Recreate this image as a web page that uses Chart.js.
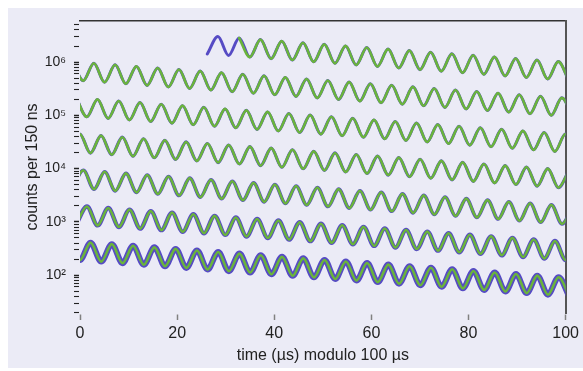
<!DOCTYPE html>
<html>
<head>
<meta charset="utf-8">
<script src="https://cdn.jsdelivr.net/npm/chart.js@4.4.1/dist/chart.umd.min.js"></script>
<style>
  html, body { margin: 0; padding: 0; background: #fff; }
  #wrap { width: 583px; height: 371px; position: relative; overflow: hidden; }
  #panel { position: absolute; left: 8px; top: 8px; width: 575px; height: 360px; background: #ebebf6; }
  #wiggle { position: absolute; left: 0; top: 0; }
  .margin { position: absolute; background: #fff; z-index: 2; }
</style>
</head>
<body>
<div id="wrap">
  <div id="panel"></div>
  <canvas id="wiggle" width="583" height="371"></canvas>
  <div class="margin" style="left:0;top:0;width:583px;height:8px"></div>
  <div class="margin" style="left:0;top:0;width:8px;height:371px"></div>
  <div class="margin" style="left:0;top:368px;width:583px;height:3px"></div>
</div>
<script>
// wiggle extrema (counts per 150 ns), in time order
const firstTroughTime = 26.21;   // µs, first trough of the data
const wigglePeriod = 4.38;       // µs between successive peaks
const fitStartTime = 32.78;      // the fitted curve starts at this peak
const rowLength = 100;           // µs per row (time modulo 100 µs)
const rowCount = 7;

const troughCounts = [
  1420000, 1330000, 1240000, 1160000, 1090000, 1010000, 947000, 885000, 827000, 772000,
  721000, 674000, 630000, 588000, 550000, 513000, 480000,
  448000, 419000, 391000, 365000, 341000, 319000, 298000, 278000, 260000, 243000,
  227000, 212000, 198000, 185000, 173000, 162000, 151000, 141000, 132000, 123000,
  115000, 107000, 100000,
  93800, 87600, 81800, 76500, 71400, 66700, 62400, 58300, 54400, 50800,
  47500, 44400, 41500, 38700, 36200, 33800, 31600, 29500, 27600, 25800,
  24100, 22500, 21000,
  19600, 18300, 17100, 16000, 14900, 14000, 13000, 12200, 11400, 10600,
  9940, 9290, 8670, 8100, 7570, 7070, 6610, 6170, 5770, 5390,
  5030, 4700, 4390, 4100, 3830, 3580,
  3340, 3120, 2920, 2730, 2550, 2380, 2220, 2080, 1940, 1810,
  1690, 1580, 1480, 1380, 1290, 1210, 1130, 1050, 984, 919,
  859, 802, 749, 700, 654, 611, 571, 533, 498, 466,
  435, 406, 380, 355, 331, 310, 289, 270, 252, 236,
  220, 206, 192, 180, 168, 157, 147, 137, 128, 119,
  112, 104, 97.4, 91.0, 85.0, 79.4, 74.2, 69.4, 64.8, 60.6,
  56.6, 52.9, 49.4, 46.1, 43.1, 40.2
];

const peakCounts = [
  3020000, 2830000, 2640000, 2470000, 2300000, 2150000, 2010000, 1880000, 1750000, 1640000,
  1530000, 1430000, 1340000, 1250000, 1170000, 1090000, 1020000,
  951000, 889000, 830000, 776000, 725000, 677000, 633000, 591000, 552000, 516000,
  482000, 450000, 421000, 393000, 367000, 343000, 320000, 299000, 280000, 261000,
  244000, 228000, 213000,
  199000, 186000, 174000, 162000, 152000, 142000, 132000, 124000, 116000, 108000,
  101000, 94200, 88000, 82200, 76800, 71800, 67100, 62600, 58500, 54700,
  51100, 47700, 44600,
  41700, 38900, 36400, 34000, 31700, 29600, 27700, 25900, 24200, 22600,
  21100, 19700, 18400, 17200, 16100, 15000, 14000, 13100, 12200, 11400,
  10700, 9980, 9320, 8710, 8140, 7600,
  7100, 6630, 6200, 5790, 5410, 5050, 4720, 4410, 4120, 3850,
  3600, 3360, 3140, 2930, 2740, 2560, 2390, 2240, 2090, 1950,
  1820, 1700, 1590, 1490, 1390, 1300, 1210, 1130, 1060, 988,
  923, 863, 806, 753, 704, 657, 614, 574, 536, 501,
  468, 437, 408, 382, 356, 333, 311, 291, 272, 254,
  237, 221, 207, 193, 181, 169, 158, 147, 138, 129,
  120, 112, 105, 97.9, 91.4, 85.4
];

const xTicks = [0, 20, 40, 60, 80, 100];
const yDecades = [1, 2, 3, 4, 5, 6];
const yMantissas = [1, 2, 3, 4, 5, 6, 7, 8, 9];
const superDigits = ['⁰', '¹', '²', '³', '⁴', '⁵', '⁶', '⁷', '⁸', '⁹'];

const fitColor = '#6ab43c';
const dataColor = '#564bc4';
const dataWidths = [3, 3, 3, 3.2, 3.6, 4.4, 6];
const fontFamily = '"Liberation Sans", Arial, sans-serif';
const textColor = '#222';

const yMin = 19.5, yMax = 5.9e6;

// time-ordered samples: trough, peak, trough, peak ...
const samples = [];
for (let n = 0; n < peakCounts.length; n++) {
  const tTrough = firstTroughTime + n * wigglePeriod;
  samples.push({ t: tTrough, y: troughCounts[n] });
  samples.push({ t: tTrough + wigglePeriod / 2, y: peakCounts[n] });
}

function rowPoints(k, tFrom) {
  const start = k * rowLength;
  return samples
    .filter(s => s.t >= Math.max(start - 2.5, tFrom) && s.t <= start + rowLength + 2.5)
    .map(s => ({ x: s.t - start, y: s.y }));
}

const datasets = [];
for (let k = 0; k < rowCount; k++) {
  datasets.push({
    label: 'fit ' + k,
    data: rowPoints(k, k === 0 ? fitStartTime - 0.01 : -Infinity),
    borderColor: fitColor,
    borderWidth: 2.6,
    order: 0
  });
}
for (let k = 0; k < rowCount; k++) {
  datasets.push({
    label: 'data ' + k,
    data: rowPoints(k, -Infinity),
    borderColor: dataColor,
    borderWidth: dataWidths[k],
    order: 1
  });
}

const yTickValues = [];
yDecades.forEach(d => yMantissas.forEach(m => {
  const v = m * Math.pow(10, d);
  if (v >= yMin && v <= yMax) yTickValues.push(v);
}));

function isPow10(v) {
  const e = Math.log10(v);
  return Math.abs(e - Math.round(e)) < 1e-9;
}

new Chart(document.getElementById('wiggle'), {
  type: 'line',
  data: { datasets: datasets },
  options: {
    responsive: false,
    animation: false,
    layout: { padding: { left: 0, top: 21, right: 16, bottom: 0 } },
    plugins: { legend: { display: false }, tooltip: { enabled: false } },
    elements: {
      point: { radius: 0 },
      line: { cubicInterpolationMode: 'monotone', borderCapStyle: 'round', borderJoinStyle: 'round' }
    },
    scales: {
      x: {
        type: 'linear', min: 0, max: 100,
        afterBuildTicks: s => { s.ticks = xTicks.map(v => ({ value: v })); },
        afterFit: s => { s.height = 58; },
        border: { color: '#000', width: 2.5 },
        grid: { z: 1, drawOnChartArea: false, tickLength: 7, tickColor: '#808080', tickWidth: 1.5 },
        ticks: { padding: 4, color: textColor, font: { family: fontFamily, size: 16 } },
        title: {
          display: true, text: 'time (µs) modulo 100 µs', color: textColor,
          font: { family: fontFamily, size: 16 }, padding: { top: 0, bottom: 6 }
        }
      },
      y: {
        type: 'logarithmic', min: yMin, max: yMax,
        afterBuildTicks: s => { s.ticks = yTickValues.map(v => ({ value: v, major: isPow10(v) })); },
        afterFit: s => { s.width = 80; },
        border: { color: '#000', width: 1.5 },
        grid: {
          z: 1, drawOnChartArea: false, tickLength: 6, tickColor: '#222',
          tickWidth: ctx => (ctx.tick && ctx.tick.major ? 1.5 : 1.1)
        },
        ticks: {
          autoSkip: false, padding: 8, color: textColor,
          font: { family: fontFamily, size: 14 },
          callback: v => isPow10(v) ? '10' + superDigits[Math.round(Math.log10(v))] : ''
        },
        title: {
          display: true, text: 'counts per 150 ns', color: textColor,
          font: { family: fontFamily, size: 16 }, padding: { top: 23, bottom: 0 }
        }
      },
      x2: {
        type: 'linear', position: 'top', min: 0, max: 100,
        afterFit: s => { s.height = 0; },
        ticks: { display: false },
        grid: { drawOnChartArea: false, drawTicks: false },
        border: { color: '#333', width: 1.5 }
      },
      y2: {
        type: 'linear', position: 'right', min: 0, max: 1,
        afterFit: s => { s.width = 0; },
        ticks: { display: false },
        grid: { drawOnChartArea: false, drawTicks: false },
        border: { color: '#555', width: 2 }
      }
    }
  }
});
</script>
</body>
</html>
